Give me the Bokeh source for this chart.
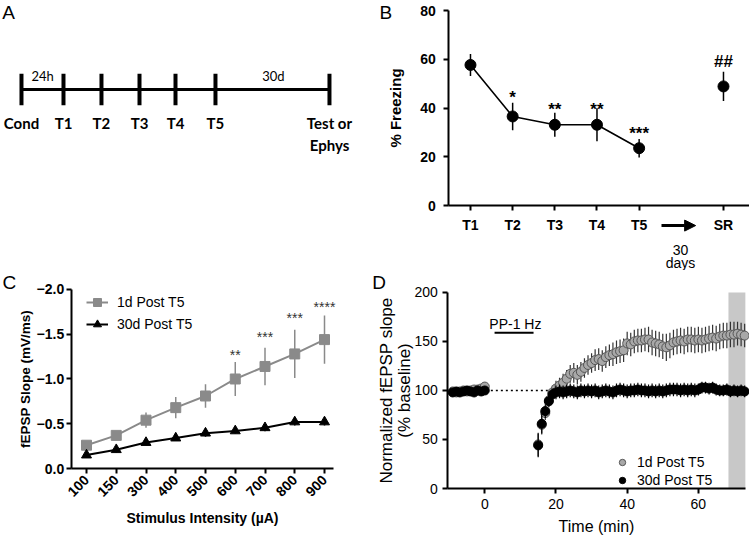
import math
from bokeh.plotting import figure
from bokeh.models import (Range1d, FixedTicker, Label, Arrow, NormalHead,
                          BoxAnnotation, Legend, LegendItem)
from bokeh.layouts import column, row
from bokeh.embed import file_html
from bokeh.resources import INLINE
from bokeh.core.properties import value

# ---------------- data ----------------
# Panel A: behavioural timeline (schematic)
timeline_labels = ["Cond", "T1", "T2", "T3", "T4", "T5", "Test or\nEphys"]
timeline_pos = [0, 1.077, 2.051, 3.026, 3.949, 4.974, 7.897]
interval_labels = ["24h", "30d"]
interval_pos = [0.54, 6.46]

# Panel B: % freezing per session
b_sessions = ["T1", "T2", "T3", "T4", "T5", "SR"]
b_x = [1, 2, 3, 4, 5, 7]
b_freezing = [57.7, 36.6, 33.2, 33.2, 23.6, 48.9]
b_sem = [4.5, 5.6, 4.9, 6.8, 3.8, 6.0]
b_marks = ["*", "**", "**", "***", "##"]
b_mark_x = [2, 3, 4, 5, 7]
b_mark_y = [44.2, 39.4, 39.4, 29.8, 59.0]

# Panel C: input-output curves
c_intensity = ["100", "150", "300", "400", "500", "600", "700", "800", "900"]
c_1d = [-0.26, -0.37, -0.54, -0.68, -0.81, -1.00, -1.14, -1.28, -1.44]
c_1d_sem = [0.03, 0.05, 0.085, 0.12, 0.13, 0.19, 0.21, 0.27, 0.27]
c_30d = [-0.15, -0.21, -0.29, -0.34, -0.395, -0.42, -0.455, -0.52, -0.52]
c_30d_sem = [0.02, 0.03, 0.03, 0.03, 0.04, 0.03, 0.04, 0.04, 0.04]
c_marks = ["**", "***", "***", "****"]
c_mark_idx = [5, 6, 7, 8]
c_mark_y = [-1.265, -1.465, -1.685, -1.805]
c_yticks = [0, -0.5, -1.0, -1.5, -2.0]
c_ytick_labels = ["0.0", "\u22120.5", "\u22121.0", "\u22121.5", "\u22122.0"]

# Panel D: fEPSP time course
d_time = [-9, -8, -7, -6, -5, -4, -3, -2, -1, 0,
          15, 16, 17, 18, 19, 20, 21, 22, 23, 24, 25, 26, 27, 28, 29,
          30, 31, 32, 33, 34, 35, 36, 37, 38, 39, 40, 41, 42, 43, 44,
          45, 46, 47, 48, 49, 50, 51, 52, 53, 54, 55, 56, 57, 58, 59,
          60, 61, 62, 63, 64, 65, 66, 67, 68, 69, 70, 71, 72, 73]
d_1d = [99, 98, 99, 100, 99, 100, 101, 101, 102, 104,
        45, 65, 77, 90, 98, 102, 105, 108, 112, 117, 118, 116, 119, 123, 126,
        128, 131, 132, 130, 134, 136, 137, 139, 140, 141, 148, 147, 150, 151, 151,
        152, 152, 149, 148, 147, 145, 144, 146, 149, 150, 151, 150, 152, 152, 151,
        152, 151, 152, 153, 154, 153, 155, 156, 156, 157, 157, 158, 157, 156]
d_1d_sem = [2, 2, 2, 2, 2, 2, 2, 2, 2, 3,
            12, 10, 7, 6, 7, 8, 8, 9, 9, 9, 10, 10, 10, 10, 10,
            10, 11, 11, 11, 11, 11, 12, 12, 12, 12, 12, 12, 12, 12, 12,
            12, 13, 13, 13, 13, 13, 14, 13, 13, 13, 13, 13, 13, 13, 13,
            13, 13, 13, 13, 13, 13, 13, 13, 13, 13, 13, 12, 12, 12]
d_30d = [98, 99, 98, 99, 100, 99, 98, 100, 99, 100,
         44, 66, 79, 89, 96, 98, 99, 98, 99, 100, 99, 98, 100, 99, 100,
         99, 100, 98, 99, 100, 99, 98, 100, 101, 100, 99, 100, 100, 101, 100,
         100, 99, 100, 99, 100, 99, 100, 101, 101, 101, 100, 101, 100, 101, 100,
         101, 103, 103, 102, 103, 101, 100, 100, 101, 99, 100, 99, 100, 99]
d_30d_sem = [2, 2, 2, 2, 2, 2, 2, 2, 2, 2,
             12, 10, 7, 6, 6, 7, 7, 7, 7, 7, 7, 7, 7, 7, 7,
             7, 7, 7, 7, 7, 7, 7, 7, 7, 7, 7, 7, 7, 7, 7,
             7, 7, 7, 7, 7, 7, 7, 7, 7, 7, 7, 7, 7, 7, 7,
             6, 6, 6, 6, 6, 6, 6, 6, 6, 6, 6, 6, 6, 6]
d_baseline_level = 100
d_dotted_span = [0.3, 20]
d_stim_span = [2.75, 13.7]
d_stim_level = 159
d_stim_label = "PP-1 Hz"
d_band = [68.45, 73.2]

FONT = "Liberation Sans"
GRAY_C = "#8a8a8a"
GRAY_D = "#a8a8a8"


def base_fig(w, h, xr, yr):
    p = figure(width=w, height=h, x_range=xr, y_range=yr, toolbar_location=None,
               output_backend="svg", min_border=0)
    p.outline_line_color = None
    p.background_fill_color = "white"
    p.border_fill_color = "white"
    p.xgrid.visible = False
    p.ygrid.visible = False
    return p


def style_axes(p, size, bold, label_size, label_bold, tick_out=5):
    for ax in p.axis:
        ax.axis_line_width = 2
        ax.axis_line_color = "black"
        ax.major_tick_line_width = 2
        ax.major_tick_line_color = "black"
        ax.major_tick_in = 0
        ax.major_tick_out = tick_out
        ax.minor_tick_line_color = None
        ax.major_label_text_font = FONT
        ax.major_label_text_font_size = size
        ax.major_label_text_font_style = "bold" if bold else "normal"
        ax.major_label_text_color = "black"
        ax.axis_label_text_font = FONT
        ax.axis_label_text_font_size = label_size
        ax.axis_label_text_font_style = "bold" if label_bold else "normal"
        ax.axis_label_text_color = "black"


def letter(p, t, x, y):
    p.add_layout(Label(x=x, y=y, text=t, text_font=FONT, text_font_size="19px",
                       text_baseline="top", text_align="left", text_color="black"))


# ---------------- Panel A ----------------
pA = base_fig(370, 270, Range1d(-0.538, 8.949), Range1d(-5.746, 2.825))
pA.xaxis.visible = False
pA.yaxis.visible = False
pA.segment(x0=[timeline_pos[0]], y0=[0], x1=[timeline_pos[-1]], y1=[0], line_width=3, line_color="black")
pA.segment(x0=timeline_pos, y0=-0.5, x1=timeline_pos, y1=0.5, line_width=4, line_color="black")
pA.text(x=timeline_pos, y=-0.78, text=timeline_labels, text_font=value("Lato"), text_font_style="bold",
        text_font_size="15px", text_align="center", text_baseline="top", text_line_height=1.2,
        text_color="black")
pA.text(x=interval_pos, y=0.44, text=interval_labels, text_font=value("Lato"), text_font_size="13px",
        text_align="center", text_baseline="middle", text_color="black")
letter(pA, "A", -0.49, 2.78)

# ---------------- Panel B ----------------
pB = base_fig(379, 270, Range1d(-1.371, 7.617), Range1d(-26.5, 84.1))
b_lo = [v - e for v, e in zip(b_freezing, b_sem)]
b_hi = [v + e for v, e in zip(b_freezing, b_sem)]
pB.segment(x0=b_x, y0=b_lo, x1=b_x, y1=b_hi, line_width=1.5, line_color="black")
pB.line(b_x[:5], b_freezing[:5], line_width=1.6, line_color="black")
pB.scatter(b_x, b_freezing, size=11, marker="circle", fill_color="black", line_color="black")
pB.text(x=b_mark_x, y=b_mark_y, text=b_marks, text_font=value(FONT), text_font_size="17px",
        text_font_style="bold", text_align="center", text_baseline="middle", text_color="black")
pB.xaxis.ticker = FixedTicker(ticks=b_x)
pB.xaxis.major_label_overrides = {x: s for x, s in zip(b_x, b_sessions)}
pB.xaxis.fixed_location = 0
pB.xaxis.bounds = (0.485, 7.617)
pB.yaxis.ticker = FixedTicker(ticks=[0, 20, 40, 60, 80])
pB.yaxis.fixed_location = 0.485
pB.yaxis.bounds = (0, 80)
pB.yaxis.axis_label = "% Freezing"
style_axes(pB, "14px", True, "15px", True)
pB.xaxis.major_label_standoff = 6
pB.yaxis.major_label_standoff = 8
pB.yaxis.axis_label_standoff = 13
pB.add_layout(Arrow(x_start=5.53, y_start=-8.1, x_end=6.34, y_end=-8.1, line_width=3, line_color="black",
                    end=NormalHead(size=11, fill_color="black", line_color="black")))
pB.add_layout(Label(x=5.98, y=-18.3, text="30", text_font=FONT, text_font_size="14px",
                    text_align="center", text_baseline="middle", text_color="black"))
pB.add_layout(Label(x=5.98, y=-23.3, text="days", text_font=FONT, text_font_size="14px",
                    text_align="center", text_baseline="middle", text_color="black"))
letter(pB, "B", -1.16, 83.5)

# ---------------- Panel C ----------------
c_x = list(range(len(c_intensity)))
pC = base_fig(370, 268, Range1d(-2.891, 9.546), Range1d(0.782, -2.212))
c1_lo = [v - e for v, e in zip(c_1d, c_1d_sem)]
c1_hi = [v + e for v, e in zip(c_1d, c_1d_sem)]
c3_lo = [v - e for v, e in zip(c_30d, c_30d_sem)]
c3_hi = [v + e for v, e in zip(c_30d, c_30d_sem)]
pC.segment(x0=c_x, y0=c1_lo, x1=c_x, y1=c1_hi, line_width=1.5, line_color=GRAY_C)
pC.segment(x0=c_x, y0=c3_lo, x1=c_x, y1=c3_hi, line_width=1.5, line_color="black")
r1l = pC.line(c_x, c_1d, line_width=2, line_color=GRAY_C)
r1s = pC.scatter(c_x, c_1d, marker="square", size=10, fill_color=GRAY_C, line_color=GRAY_C)
r2l = pC.line(c_x, c_30d, line_width=2, line_color="black")
r2s = pC.scatter(c_x, c_30d, marker="triangle", size=10, fill_color="black", line_color="black")
pC.text(x=c_mark_idx, y=c_mark_y, text=c_marks, text_font=value(FONT), text_font_size="14px",
        text_align="center", text_baseline="middle", text_color="#333333")
pC.xaxis.ticker = FixedTicker(ticks=c_x)
pC.xaxis.major_label_overrides = {i: s for i, s in zip(c_x, c_intensity)}
pC.xaxis.fixed_location = 0
pC.xaxis.bounds = (-0.514, 8.3)
pC.yaxis.ticker = FixedTicker(ticks=c_yticks)
pC.yaxis.major_label_overrides = {t: s for t, s in zip(c_yticks, c_ytick_labels)}
pC.yaxis.fixed_location = -0.514
pC.yaxis.bounds = (-2.0, 0)
pC.yaxis.axis_label = "fEPSP Slope (mV/ms)"
pC.xaxis.axis_label = "Stimulus Intensity (\u00b5A)"
style_axes(pC, "14px", True, "13.5px", True)
pC.xaxis.axis_label_text_font_size = "14px"
pC.xaxis.major_label_orientation = math.pi / 4
pC.yaxis.major_label_standoff = 2
pC.yaxis.axis_label_standoff = 1
pC.xaxis.major_label_standoff = 4
pC.xaxis.axis_label_standoff = 6
legC = Legend(items=[LegendItem(label="1d Post T5", renderers=[r1l, r1s]),
                     LegendItem(label="30d Post T5", renderers=[r2l, r2s])],
              location=(86, 204), padding=0, margin=0, spacing=2, glyph_width=22, glyph_height=20,
              label_height=20, label_standoff=9, border_line_color=None, background_fill_alpha=0,
              label_text_font=FONT, label_text_font_size="14px", label_text_color="black")
pC.add_layout(legC)
letter(pC, "C", -2.824, -2.196)

# ---------------- Panel D ----------------
pD = base_fig(379, 268, Range1d(-32.1, 74.36), Range1d(-51.0, 222.4))
pD.add_layout(BoxAnnotation(left=d_band[0], right=d_band[1], bottom=0, top=200, fill_color="#c8c8c8",
                            fill_alpha=1, line_color=None, level="underlay"))
pD.line(d_dotted_span, [d_baseline_level, d_baseline_level], line_width=1.5, line_color="black",
        line_dash="2 3")
pD.line(d_stim_span, [d_stim_level, d_stim_level], line_width=2, line_color="black")
pD.text(x=[8.6], y=[168], text=[d_stim_label], text_font=value(FONT),
        text_font_size="14px", text_align="center", text_baseline="middle", text_color="black")
d1_lo = [v - e for v, e in zip(d_1d, d_1d_sem)]
d1_hi = [v + e for v, e in zip(d_1d, d_1d_sem)]
d3_lo = [v - e for v, e in zip(d_30d, d_30d_sem)]
d3_hi = [v + e for v, e in zip(d_30d, d_30d_sem)]
pD.segment(x0=d_time, y0=d1_lo, x1=d_time, y1=d1_hi, line_width=1.2, line_color="#333333")
rd1 = pD.scatter(d_time, d_1d, marker="circle", size=9, fill_color=GRAY_D, line_color="#555555")
pD.segment(x0=d_time, y0=d3_lo, x1=d_time, y1=d3_hi, line_width=1.2, line_color="black")
rd3 = pD.scatter(d_time, d_30d, marker="circle", size=9, fill_color="black", line_color="black")
pD.xaxis.ticker = FixedTicker(ticks=[0, 20, 40, 60])
pD.xaxis.fixed_location = 0
pD.xaxis.bounds = (-10.4, 73.2)
pD.yaxis.ticker = FixedTicker(ticks=[0, 50, 100, 150, 200])
pD.yaxis.fixed_location = -10.4
pD.yaxis.bounds = (0, 200)
pD.xaxis.axis_label = "Time (min)"
pD.yaxis.axis_label = "Normalized fEPSP slope\n(% baseline)"
style_axes(pD, "14px", False, "17px", False, tick_out=5)
pD.xaxis.axis_label_text_font_size = "16px"
pD.yaxis.axis_label_text_line_height = 0.95
pD.yaxis.major_label_standoff = 5
pD.yaxis.axis_label_standoff = -3
pD.xaxis.major_label_standoff = 5
pD.xaxis.axis_label_standoff = 6
legD = Legend(items=[LegendItem(label="1d Post T5", renderers=[rd1]),
                     LegendItem(label="30d Post T5", renderers=[rd3])],
              location=(244, 49), padding=0, margin=0, spacing=0, glyph_width=16, glyph_height=18,
              label_height=18, label_standoff=7, border_line_color=None, background_fill_alpha=0,
              label_text_font=FONT, label_text_font_size="14px", label_text_color="black")
pD.add_layout(legD)
letter(pD, "D", -31.6, 221.0)

layout = column(row(pA, pB), row(pC, pD))
open("out.html", "w").write(file_html(layout, INLINE))
